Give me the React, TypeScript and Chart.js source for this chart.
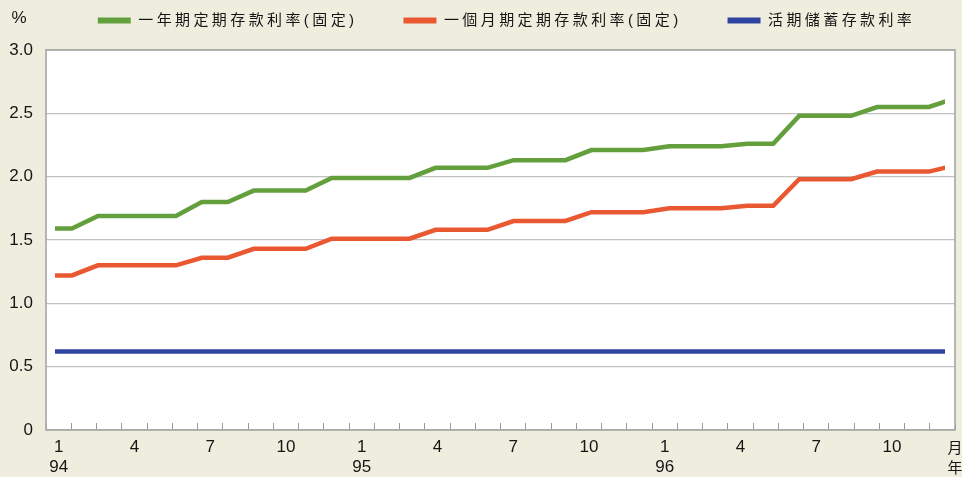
import { useEffect, useRef } from 'react';
import { Chart, registerables } from 'chart.js';

Chart.register(...registerables);

// ---- data -------------------------------------------------------------
const years = ['94', '95', '96'];
const labeledMonths = [1, 4, 7, 10];

const seriesNames = [
  '一年期定期存款利率(固定)',
  '一個月期定期存款利率(固定)',
  '活期儲蓄存款利率',
];

// monthly rates (%), 94/1 … 96/12
const oneYearFixed = [
  1.59, 1.59, 1.69, 1.69, 1.69, 1.69, 1.80, 1.80, 1.89, 1.89, 1.89, 1.99,
  1.99, 1.99, 1.99, 2.07, 2.07, 2.07, 2.13, 2.13, 2.13, 2.21, 2.21, 2.21,
  2.24, 2.24, 2.24, 2.26, 2.26, 2.48, 2.48, 2.48, 2.55, 2.55, 2.55, 2.62,
];
const oneMonthFixed = [
  1.22, 1.22, 1.30, 1.30, 1.30, 1.30, 1.36, 1.36, 1.43, 1.43, 1.43, 1.51,
  1.51, 1.51, 1.51, 1.58, 1.58, 1.58, 1.65, 1.65, 1.65, 1.72, 1.72, 1.72,
  1.75, 1.75, 1.75, 1.77, 1.77, 1.98, 1.98, 1.98, 2.04, 2.04, 2.04, 2.09,
];
const passbookSavings = [
  0.62, 0.62, 0.62, 0.62, 0.62, 0.62, 0.62, 0.62, 0.62, 0.62, 0.62, 0.62,
  0.62, 0.62, 0.62, 0.62, 0.62, 0.62, 0.62, 0.62, 0.62, 0.62, 0.62, 0.62,
  0.62, 0.62, 0.62, 0.62, 0.62, 0.62, 0.62, 0.62, 0.62, 0.62, 0.62, 0.62,
];

const yMin = 0;
const yMax = 3;
const yStep = 0.5;

// ---- styling ----------------------------------------------------------
const colors = ['rgb(99,159,61)', 'rgb(234,88,50)', 'rgb(46,68,160)'];
const PAGE_BG = 'rgb(239,238,222)';
const PLOT_BG = '#ffffff';
const FRAME = '#a6a6a6';
const TEXT = '#151515';
const LATIN = "'Liberation Sans', Arial, sans-serif";
const MIXED = "'Liberation Sans', 'Noto Sans CJK TC', sans-serif";
const CJK = "'Noto Sans CJK TC', sans-serif";

const W = 962;
const H = 477;

const categories = years.flatMap((year) =>
  Array.from({ length: 12 }, (_, i) => ({ year, month: i + 1 }))
);
const categoryKeys = categories.map((c) => `${c.year}/${c.month}`);

const LEGEND_PAD = 46;
const LEGEND_FONT = 15;
const LEGEND_HEIGHT = 50;
const LEGEND_CENTER_Y = 20.5;
const LEGEND_SHIFT_X = 29;
const LEGEND_SPACING = '3.4px';

// Legend text is letter-spaced; measure and draw with the same spacing,
// and keep the wide item gap without pushing the row down.
const legendTweaks = {
  id: 'legendTweaks',
  afterInit(chart: any) {
    const legend = chart.legend;
    if (!legend) return;
    const fit = legend.fit;
    const draw = legend.draw;
    legend.fit = function (this: any) {
      const ctx = this.ctx;
      ctx.save();
      ctx.letterSpacing = LEGEND_SPACING;
      fit.call(this);
      ctx.restore();
      this.height = LEGEND_HEIGHT;
    };
    legend.draw = function (this: any, ...args: any[]) {
      const ctx = this.ctx;
      const saved = { top: this.top, left: this.left, right: this.right };
      const dy = LEGEND_PAD + LEGEND_FONT / 2 - LEGEND_CENTER_Y;
      this.top = saved.top - dy;
      this.left = saved.left + LEGEND_SHIFT_X;
      this.right = saved.right + LEGEND_SHIFT_X;
      ctx.save();
      ctx.letterSpacing = LEGEND_SPACING;
      draw.apply(this, args);
      ctx.restore();
      this.top = saved.top;
      this.left = saved.left;
      this.right = saved.right;
    };
  },
};

const frameAndNotes = {
  id: 'frameAndNotes',
  beforeDraw(chart: any) {
    const { ctx, chartArea: a } = chart;
    ctx.save();
    ctx.fillStyle = PAGE_BG;
    ctx.fillRect(0, 0, chart.width, chart.height);
    ctx.fillStyle = PLOT_BG;
    ctx.fillRect(a.left, a.top, a.right - a.left, a.bottom - a.top);
    ctx.restore();
  },
  afterDatasetsDraw(chart: any) {
    const { ctx, chartArea: a } = chart;
    ctx.save();
    ctx.strokeStyle = FRAME;
    ctx.lineWidth = 1.6;
    ctx.strokeRect(a.left, a.top, a.right - a.left, a.bottom - a.top);
    ctx.restore();
  },
  afterDraw(chart: any) {
    const { ctx, chartArea: a } = chart;
    const xs = chart.scales.x;
    ctx.save();
    ctx.fillStyle = TEXT;
    ctx.textAlign = 'center';
    ctx.textBaseline = 'middle';
    ctx.font = `17px ${LATIN}`;
    ctx.fillText('%', a.left - 27, 18.5);
    ctx.font = `15px ${CJK}`;
    ctx.fillText('月', a.right, xs.top + 17);
    ctx.fillText('年', a.right, xs.top + 37);
    ctx.restore();
  },
};

export default function App() {
  const canvasRef = useRef<HTMLCanvasElement | null>(null);

  useEffect(() => {
    const canvas = canvasRef.current;
    if (!canvas) return;

    const series = [oneYearFixed, oneMonthFixed, passbookSavings];
    const chart = new Chart(canvas, {
      type: 'line',
      data: {
        labels: categoryKeys,
        datasets: series.map((values, k) => ({
          label: seriesNames[k],
          data: values.map((v, i) => ({ x: i, y: v })),
          xAxisID: 'mx',
          yAxisID: 'y',
          borderColor: colors[k],
          backgroundColor: colors[k],
          borderWidth: 4.5,
          pointRadius: 0,
          pointHoverRadius: 0,
          tension: 0,
          fill: false,
          clip: { left: -9, right: -10, top: 5, bottom: 5 },
        })),
      },
      options: {
        responsive: false,
        animation: false,
        events: [],
        layout: { padding: { left: 0, right: 7, top: 0, bottom: 0 } },
        plugins: {
          tooltip: { enabled: false },
          legend: {
            display: true,
            position: 'top',
            align: 'center',
            labels: {
              boxWidth: 33,
              boxHeight: 6,
              padding: LEGEND_PAD,
              color: TEXT,
              font: { family: MIXED, size: LEGEND_FONT },
              generateLabels: (c: any) =>
                Chart.defaults.plugins.legend.labels
                  .generateLabels(c)
                  .map((item: any) => ({ ...item, lineWidth: 0 })),
            },
          },
        },
        scales: {
          x: {
            type: 'category',
            labels: categoryKeys,
            offset: true,
            position: 'bottom',
            grid: {
              display: true,
              offset: true,
              drawOnChartArea: false,
              drawTicks: true,
              tickLength: -7,
              color: '#9a9a9a',
              lineWidth: 1,
            },
            border: { display: false },
            ticks: {
              autoSkip: false,
              maxRotation: 0,
              minRotation: 0,
              padding: 14,
              color: TEXT,
              font: { family: LATIN, size: 17, lineHeight: 1.2 },
              callback: (_v: any, index: number) => {
                const c = categories[index];
                if (c.month === 1) return [String(c.month), c.year];
                return labeledMonths.includes(c.month) ? String(c.month) : '';
              },
            },
            afterFit: (s: any) => {
              s.height = 47;
            },
          },
          mx: {
            type: 'linear',
            display: false,
            min: 0,
            max: categories.length - 1,
          },
          y: {
            type: 'linear',
            min: yMin,
            max: yMax,
            ticks: {
              stepSize: yStep,
              padding: 13,
              color: TEXT,
              font: { family: LATIN, size: 17 },
              callback: (v: any) => (Number(v) === 0 ? '0' : Number(v).toFixed(1)),
            },
            grid: { color: '#c2c2c2', lineWidth: 1.2, drawTicks: false },
            border: { display: false },
            afterFit: (s: any) => {
              s.width = 46;
            },
          },
        },
      },
      plugins: [legendTweaks, frameAndNotes],
    } as any);

    return () => chart.destroy();
  }, []);

  return (
    <div
      style={{
        position: 'fixed',
        left: 0,
        top: 0,
        width: W,
        height: H,
        background: PAGE_BG,
      }}
    >
      <canvas ref={canvasRef} width={W} height={H} style={{ display: 'block' }} />
    </div>
  );
}
